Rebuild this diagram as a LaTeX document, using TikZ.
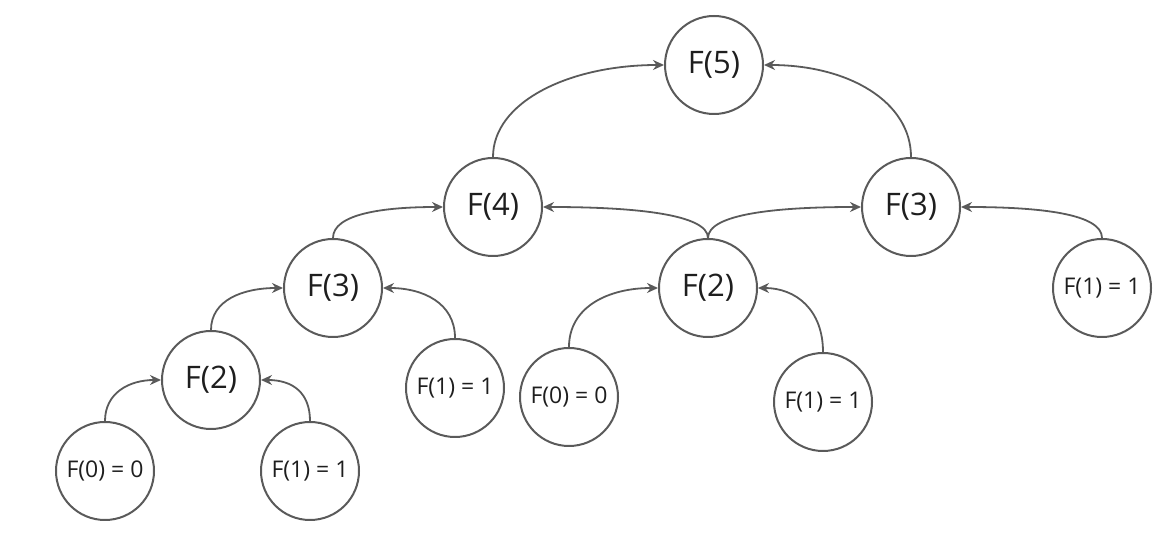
\documentclass[tikz,border=0pt]{standalone}
\usepackage{fontspec}
\setmainfont{Open Sans}
\usetikzlibrary{arrows.meta}

\definecolor{linegray}{RGB}{90,90,90}
\definecolor{textgray}{RGB}{30,30,30}

\begin{document}
\begin{tikzpicture}[x=0.5pt, y=0.5pt,
  fib/.style={circle, draw=linegray, line width=1pt, minimum size=49pt,
    inner sep=0pt, text=textgray, font=\fontsize{15.5}{17}\selectfont},
  leaf/.style={fib, font=\fontsize{11.5}{13}\selectfont},
  up/.style={draw=linegray, line width=0.9pt,
    -{Stealth[length=5.5pt, width=5pt]}}]
  \useasboundingbox (0,0) rectangle (1176,545);

  \node[fib]  (f5)  at (714,480) {F(5)};
  \node[fib]  (f4)  at (493,338) {F(4)};
  \node[fib]  (f3r) at (911,338) {F(3)};
  \node[fib]  (f3l) at (333,257) {F(3)};
  \node[fib]  (f2m) at (708,257) {F(2)};
  \node[leaf] (f1r) at (1102,257) {F(1) = 1};
  \node[fib]  (f2l) at (211,165) {F(2)};
  \node[leaf] (f1a) at (455,157) {F(1) = 1};
  \node[leaf] (f0m) at (569,148) {F(0) = 0};
  \node[leaf] (f1b) at (823,143) {F(1) = 1};
  \node[leaf] (f0l) at (105,74)  {F(0) = 0};
  \node[leaf] (f1c) at (310,74)  {F(1) = 1};

  % child top -> parent side
  \path[up] (f4.north)  .. controls +(0,55) and +(-95,0) .. (f5.west);
  \path[up] (f3r.north) .. controls +(0,55) and +(85,0)  .. (f5.east);
  \path[up] (f3l.north) .. controls +(0,24) and +(-60,0) .. (f4.west);
  \path[up] (f2m.north) .. controls +(0,24) and +(90,0)  .. (f4.east);
  \path[up] (f2m.north) .. controls +(0,24) and +(-85,0) .. (f3r.west);
  \path[up] (f1r.north) .. controls +(0,24) and +(80,0)  .. (f3r.east);
  \path[up] (f2l.north) .. controls +(0,30) and +(-40,0) .. (f3l.west);
  \path[up] (f1a.north) .. controls +(0,35) and +(40,0)  .. (f3l.east);
  \path[up] (f0m.north) .. controls +(0,40) and +(-50,0) .. (f2m.west);
  \path[up] (f1b.north) .. controls +(0,42) and +(38,0)  .. (f2m.east);
  \path[up] (f0l.north) .. controls +(0,28) and +(-32,0) .. (f2l.west);
  \path[up] (f1c.north) .. controls +(0,28) and +(32,0)  .. (f2l.east);
\end{tikzpicture}
\end{document}
